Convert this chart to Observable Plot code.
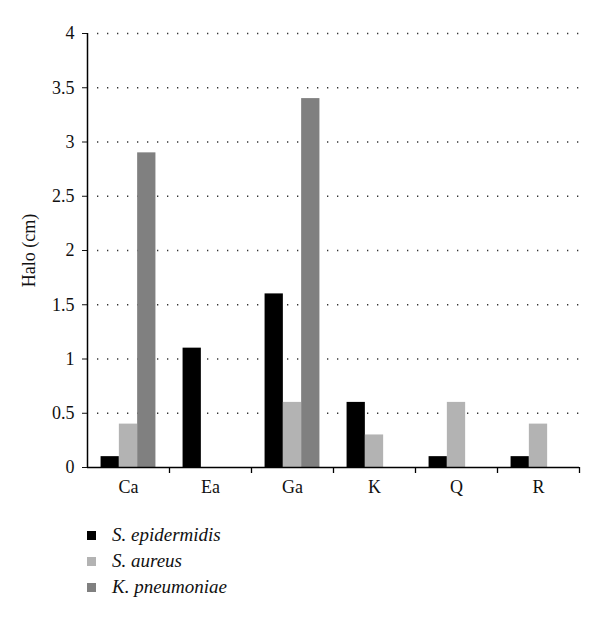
<!DOCTYPE html>
<html>
<head>
<meta charset="utf-8">
<script src="https://cdn.jsdelivr.net/npm/d3@7"></script>
<script src="https://cdn.jsdelivr.net/npm/@observablehq/plot@0.6"></script>
<style>
  html, body { margin: 0; padding: 0; background: #fff; }
  #chart { width: 600px; }
  .legend { margin: 12px 0 0 87px; font-family: 'Liberation Serif', 'Times New Roman', serif; font-style: italic; font-size: 19px; color: #111; }
  .legend .row { height: 26px; display: flex; align-items: center; }
  .legend .sw { width: 9px; height: 9px; margin-right: 16px; display: inline-block; }
</style>
</head>
<body>
<div id="chart"></div>
<script>
const categories = ["Ca", "Ea", "Ga", "K", "Q", "R"];
const seriesNames = ["S. epidermidis", "S. aureus", "K. pneumoniae"];
const seriesColors = ["#000000", "#b3b3b3", "#808080"];
const epidermidis = [0.1, 1.1, 1.6, 0.6, 0.1, 0.1];
const aureus = [0.4, 0, 0.6, 0.3, 0.6, 0.4];
const pneumoniae = [2.9, 0, 3.4, 0, 0, 0];
const yTicks = [0, 0.5, 1, 1.5, 2, 2.5, 3, 3.5, 4];

const seriesValues = [epidermidis, aureus, pneumoniae];
const data = [];
seriesValues.forEach((vals, s) => {
  categories.forEach((c, i) => data.push({category: c, series: seriesNames[s], value: vals[i]}));
});

const W = 600, H = 510;
const mL = 87, mR = 21;
const band = (W - mL - mR) / categories.length;
const barW = band * 0.223;
const inset = (band - barW) / 2;

const barMarks = seriesNames.map((name, s) =>
  Plot.barY(data.filter(d => d.series === name && d.value > 0), {
    x: "category", y: "value", fill: seriesColors[s],
    dx: (s - 1) * barW, insetLeft: inset, insetRight: inset
  })
);

const chart = Plot.plot({
  width: W,
  height: H,
  marginTop: 33,
  marginBottom: 43,
  marginLeft: mL,
  marginRight: mR,
  style: { fontFamily: "'Liberation Serif', 'Times New Roman', serif", fontSize: "18px", color: "#111", background: "#fff" },
  x: {
    domain: categories, padding: 0, tickSize: 0, tickPadding: 13, label: null
  },
  y: {
    domain: [0, 4], ticks: yTicks, tickFormat: d => String(d), tickSize: 5, tickPadding: 8,
    label: "Halo (cm)", labelAnchor: "center", labelOffset: 65, labelArrow: false
  },
  marks: [
    Plot.ruleY(yTicks.filter(t => t > 0), { stroke: "#333", strokeWidth: 1.3, strokeDasharray: "1.3,8.7", insetLeft: 10 }),
    ...barMarks,
    Plot.ruleY([0], { stroke: "#000", strokeWidth: 1.5 }),
    Plot.ruleX([categories[0]], { dx: -band / 2, y1: 0, y2: 4, stroke: "#000", strokeWidth: 1.5 }),
    Plot.ruleX(categories, { dx: band / 2, y1: 0, y2: 0, insetBottom: -6, stroke: "#000", strokeWidth: 1.3 })
  ]
});
document.getElementById("chart").appendChild(chart);

const legend = document.createElement("div");
legend.className = "legend";
seriesNames.forEach((name, s) => {
  const row = document.createElement("div");
  row.className = "row";
  const sw = document.createElement("span");
  sw.className = "sw";
  sw.style.background = seriesColors[s];
  const tx = document.createElement("span");
  tx.textContent = name;
  row.appendChild(sw);
  row.appendChild(tx);
  legend.appendChild(row);
});
document.getElementById("chart").appendChild(legend);
</script>
</body>
</html>
